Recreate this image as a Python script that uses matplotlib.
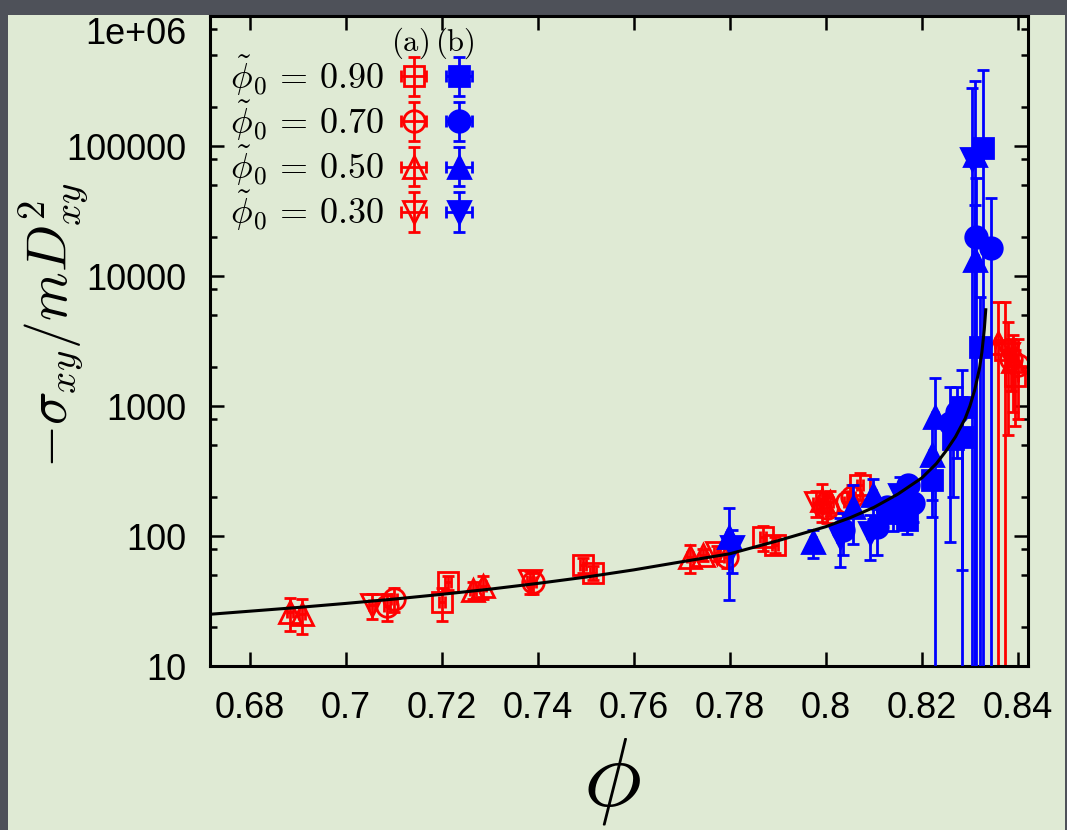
import numpy as np
import matplotlib.pyplot as plt
from matplotlib.container import ErrorbarContainer
from matplotlib.legend_handler import HandlerTuple, HandlerErrorbar
from matplotlib.patches import Rectangle
from matplotlib.ticker import FixedLocator, NullFormatter

plt.rcParams['mathtext.fontset'] = 'cm'
plt.rcParams['font.family'] = ['Liberation Sans', 'DejaVu Sans']

# (a) red, open markers
a90_phi = [0.7200, 0.7212, 0.7494, 0.7515, 0.7869, 0.7894, 0.8071, 0.8373, 0.8394]
a90_val = [31, 44, 60, 52, 98, 86, 247, 2700, 1700]
a90_err = [9, 5.5, 8, 6.5, 22, 12, 58, 3600, 1000]

a70_phi = [0.7085, 0.7100, 0.7390, 0.7794, 0.8002, 0.8044, 0.8054, 0.8385, 0.8400]
a70_val = [29, 33, 44, 69, 165, 183, 200, 2300, 2050]
a70_err = [7, 7, 8, 12, 40, 35, 45, 1000, 1250]

a50_phi = [0.6883, 0.6908, 0.7265, 0.7285, 0.7717, 0.7744, 0.7992, 0.8008, 0.8358, 0.8390]
a50_val = [26, 25, 38.5, 41, 69, 72, 189, 183, 3050, 2200]
a50_err = [7.5, 7.5, 6, 8, 17, 8, 60, 40, 3300, 1300]

a30_phi = [0.7054, 0.7383, 0.7773, 0.7980, 0.8380]
a30_val = [29.5, 45, 74, 180, 2500]
a30_err = [6.5, 9, 10, 40, 1900]

# (b) blue, filled markers
b90_phi = [0.8140, 0.8169, 0.8221, 0.8265, 0.8283, 0.8283, 0.8321, 0.8327]
b90_val = [150, 133, 270, 560, 980, 575, 2850, 96600]
b90_err = [40, 30, 80, 360, 925, 600, 4000, 290000]

b70_phi = [0.8035, 0.8106, 0.8127, 0.8171, 0.8181, 0.8258, 0.8273, 0.8312, 0.8344]
b70_val = [111, 117, 167, 247, 179, 740, 900, 20000, 16400]
b70_err = [40, 45, 30, 45, 50, 650, 500, 37000, 23600]

b50_phi = [0.7798, 0.7973, 0.8056, 0.8098, 0.8221, 0.8227, 0.8310, 0.8310]
b50_val = [98, 90, 167, 206, 420, 825, 13300, 85000]
b50_err = [66, 22, 80, 70, 280, 830, 22000, 230000]

b30_phi = [0.7804, 0.8029, 0.8092, 0.8154, 0.8305]
b30_val = [82, 98, 105, 206, 80000]
b30_err = [30, 40, 40, 80, 200000]

phi_err = 0.0006

# fitted curve
fit_phi = [0.6717, 0.68, 0.69, 0.70, 0.71, 0.72, 0.73, 0.74, 0.75, 0.76, 0.77,
           0.78, 0.79, 0.80, 0.805, 0.81, 0.815, 0.82, 0.823, 0.825, 0.827,
           0.829, 0.830, 0.831, 0.832, 0.8325, 0.833, 0.8333]
fit_val = [25.0, 26.4, 28.2, 30.3, 32.7, 35.6, 39.0, 43.2, 48.3, 54.9, 63.4,
           73, 92, 118, 138, 166, 210, 280, 360, 450, 580,
           800, 1000, 1330, 1950, 2600, 3900, 5500]

phi0_labels = ['0.90', '0.70', '0.50', '0.30']

green = '#dfead4'
fig = plt.figure(figsize=(10.67, 8.30), dpi=100, facecolor='#4e5159')
fig.patches.append(Rectangle((8 / 1067, 0), 1057 / 1067, 815 / 830,
                             transform=fig.transFigure, facecolor=green,
                             edgecolor='none', zorder=-10))
ax = fig.add_axes([210 / 1067, 164 / 830, 818 / 1067, 650 / 830])
ax.set_facecolor(green)
ax.set_yscale('log')

red_sets = [(a90_phi, a90_val, a90_err, 's'), (a70_phi, a70_val, a70_err, 'o'),
            (a50_phi, a50_val, a50_err, '^'), (a30_phi, a30_val, a30_err, 'v')]
blue_sets = [(b90_phi, b90_val, b90_err, 's'), (b70_phi, b70_val, b70_err, 'o'),
             (b50_phi, b50_val, b50_err, '^'), (b30_phi, b30_val, b30_err, 'v')]

ms = {'s': 14.5, 'o': 15.5, '^': 16, 'v': 16}
red_h = []
for x, y, e, m in red_sets:
    h = ax.errorbar(x, y, yerr=e, xerr=phi_err, fmt=m, ms=ms[m], mfc='none',
                    mec='#ff0000', mew=2, ecolor='#ff0000', elinewidth=2,
                    capsize=4, capthick=2, zorder=2)
    red_h.append(h)
blue_h = []
for x, y, e, m in blue_sets:
    h = ax.errorbar(x, y, yerr=e, xerr=phi_err, fmt=m, ms=ms[m], mfc='#0000ff',
                    mec='#0000ff', mew=2, ecolor='#0000ff', elinewidth=2,
                    capsize=4, capthick=2, zorder=3)
    blue_h.append(h)

ax.plot(fit_phi, fit_val, color='black', lw=2.2, zorder=5)

ax.set_xlim(0.6717, 0.8421)
ax.set_ylim(10, 1e6)
ax.set_xticks([0.68, 0.70, 0.72, 0.74, 0.76, 0.78, 0.80, 0.82, 0.84])
ax.set_xticklabels(['0.68', '0.7', '0.72', '0.74', '0.76', '0.78', '0.8', '0.82', '0.84'])
ax.yaxis.set_major_locator(FixedLocator([10, 100, 1e3, 1e4, 1e5, 1e6]))
ax.set_yticklabels(['10', '100', '1000', '10000', '100000', ''])
ax.yaxis.set_minor_locator(FixedLocator([m * 10.0 ** k for k in range(1, 6) for m in (2, 5, 8)]))
ax.yaxis.set_minor_formatter(NullFormatter())
ax.tick_params(which='both', direction='in', top=True, right=True, width=1.8, labelsize=26)
ax.tick_params(which='major', length=10)
ax.tick_params(which='minor', length=5)
ax.tick_params(axis='y', pad=17)
ax.tick_params(axis='x', pad=18)
for s in ax.spines.values():
    s.set_linewidth(2.2)

ax.annotate('1e+06', xy=(0, 1e6), xycoords=('axes fraction', 'data'),
            xytext=(-24, -19), textcoords='offset pixels', ha='right', va='center',
            fontsize=26)

fig.text(54 / 1067, 1 - 325 / 830, r'$-\sigma_{xy}/mD^2_{xy}$', rotation=90,
         ha='center', va='center', fontsize=40)
fig.text(612 / 1067, 1 - 781 / 830, r'$\phi$', ha='center', va='center', fontsize=70)

labels = [r'$\tilde{\phi}_0\,=\,%s$' % v for v in phi0_labels]
ax.legend([(r, b) for r, b in zip(red_h, blue_h)], labels,
          handler_map={tuple: HandlerTuple(ndivide=None, pad=0),
                       ErrorbarContainer: HandlerErrorbar(xerr_size=0.35, yerr_size=0.55)},
          markerfirst=False, frameon=False, fontsize=26, loc='upper left',
          bbox_to_anchor=(0.0244, 0.942), borderpad=0, borderaxespad=0,
          handlelength=2.5, handletextpad=0.2, labelspacing=0.02, numpoints=1)
ax.text((410 - 210) / 818, (666 - 43) / 650, r'$\mathrm{(a)}$', transform=ax.transAxes,
        ha='center', va='center', fontsize=22)
ax.text((455 - 210) / 818, (666 - 43) / 650, r'$\mathrm{(b)}$', transform=ax.transAxes,
        ha='center', va='center', fontsize=22)

fig.savefig('out.png', dpi=100, facecolor=fig.get_facecolor())
